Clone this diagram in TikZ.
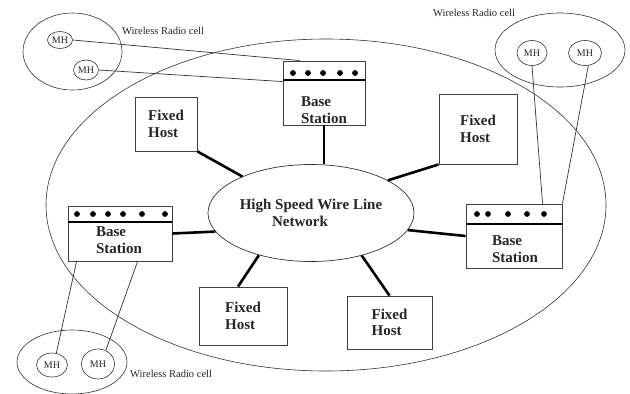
\documentclass[tikz,border=0pt]{standalone}
\usepackage{fontspec}
\setmainfont{Liberation Serif}
\usetikzlibrary{shapes.geometric,calc}
\begin{document}
\begin{tikzpicture}[x=1pt,y=-1pt,
  thinline/.style={draw=black!80, line width=0.7pt},
  link/.style={draw=black, line width=2.6pt},
  cell/.style={ellipse, draw=black!80, line width=0.6pt, inner sep=0pt},
  mh/.style={ellipse, draw=black!80, line width=0.6pt, inner sep=0pt, font=\fontsize{10}{11}\selectfont, text=black!85},
  host/.style={rectangle, draw=black!75, line width=0.9pt, inner sep=0pt, align=left, font=\bfseries\fontsize{15}{16.5}\selectfont, text=black!85},
  bsbox/.style={rectangle, draw=black!75, line width=0.9pt, inner sep=0pt},
  bstext/.style={align=left, font=\bfseries\fontsize{15}{16.5}\selectfont, text=black!85, inner sep=0pt},
  celllabel/.style={anchor=west, inner sep=0pt, font=\fontsize{10.5}{12}\selectfont, text=black!85},
  divider/.style={draw=black, line width=2pt},
  bsdot/.style={fill=black}
]
\fill[white] (0,0) rectangle (630,394);
\useasboundingbox (0,0) rectangle (630,394);

% big area and radio cells
\node[cell, minimum width=560pt, minimum height=332pt] (area) at (326,205) {};
\node[cell, minimum width=99pt, minimum height=77pt] (cellA) at (72.5,51.5) {};
\node[cell, minimum width=130pt, minimum height=74pt] (cellB) at (560,50) {};
\node[cell, minimum width=110pt, minimum height=64pt] (cellC) at (72,362) {};

\node[celllabel] (lbA) at (122,31) {Wireless Radio cell};
\node[celllabel] (lbB) at (433,13) {Wireless Radio cell};
\node[celllabel] (lbC) at (130,374) {Wireless Radio cell};

% mobile hosts
\node[mh, minimum width=25pt, minimum height=17pt] (mh1) at (60,40) {MH};
\node[mh, minimum width=25pt, minimum height=20pt] (mh2) at (86,70) {MH};
\node[mh, minimum width=30pt, minimum height=25pt] (mh3) at (532,53) {MH};
\node[mh, minimum width=33pt, minimum height=25pt] (mh4) at (585,53) {MH};
\node[mh, minimum width=31pt, minimum height=24pt] (mh5) at (52,365) {MH};
\node[mh, minimum width=33pt, minimum height=30pt] (mh6) at (98,364) {MH};

% central network
\node[ellipse, draw=black!80, line width=0.7pt, inner sep=0pt, minimum width=206pt, minimum height=97pt,
      align=center, font=\bfseries\fontsize{15}{17}\selectfont, text=black!85] (net) at (311,213)
      {High Speed Wire Line\\Network\hspace*{22pt}};

% base stations
\node[bsbox, minimum width=82pt, minimum height=64pt] (bs1) at (324,93) {};
\node[bsbox, minimum width=104pt, minimum height=55pt] (bs2) at (120,233.5) {};
\node[bsbox, minimum width=96pt, minimum height=64pt] (bs3) at (514,236) {};

\draw[divider] ($(bs1.north west)+(0,19)$) -- ($(bs1.north east)+(0,19)$);
\draw[divider] ($(bs2.north west)+(0,16)$) -- ($(bs2.north east)+(0,16)$);
\draw[divider] ($(bs3.north west)+(0,20)$) -- ($(bs3.north east)+(0,20)$);

\foreach \x in {293,308,323,340,355} \fill[bsdot] (\x,73) circle (2.9pt);
\foreach \x in {77,93,108,123,142,165} \fill[bsdot] (\x,214) circle (2.9pt);
\foreach \x in {477,488,508,527,544} \fill[bsdot] (\x,214) circle (2.9pt);

\node[bstext] (bs1t) at (324,110) {Base\\Station};
\node[bstext] (bs2t) at (119,240) {Base\\Station};
\node[bstext] (bs3t) at (515,249) {Base\\Station};

% fixed hosts
\node[host, minimum width=62pt, minimum height=54pt] (fh1) at (166,124) {Fixed\\Host};
\node[host, minimum width=78pt, minimum height=70pt] (fh2) at (478,129) {Fixed\\Host};
\node[host, minimum width=88pt, minimum height=58pt] (fh3) at (243,316) {Fixed\\Host};
\node[host, minimum width=85pt, minimum height=53pt] (fh4) at (389.5,322.5) {Fixed\\Host};

% wired links
\draw[link] (bs1.south) -- (bs1.south |- net.north);
\draw[link] (fh1.south east) -- (net.152);
\draw[link] (fh2.south west) -- (net.23);
\draw[link] (bs2.east) -- (net.191);
\draw[link] (bs3.west) -- (net.350);
\draw[link] ($(fh3.north)+(-5,0)$) -- (net.219);
\draw[link] (fh4.north) -- (net.320);

% radio links
\draw[thinline] (mh1.east) -- ($(bs1.north west)+(17,0)$);
\draw[thinline] (mh2.east) -- ($(bs1.north west)+(0,21)$);
\draw[thinline] (mh3.south) -- ($(bs3.north west)+(77,0)$);
\draw[thinline] (mh4.-75) -- (bs3.north east);
\draw[thinline] ($(bs2.south west)+(9,0)$) -- (mh5.70);
\draw[thinline] ($(bs2.south west)+(70,0)$) -- (mh6.60);
\end{tikzpicture}
\end{document}
